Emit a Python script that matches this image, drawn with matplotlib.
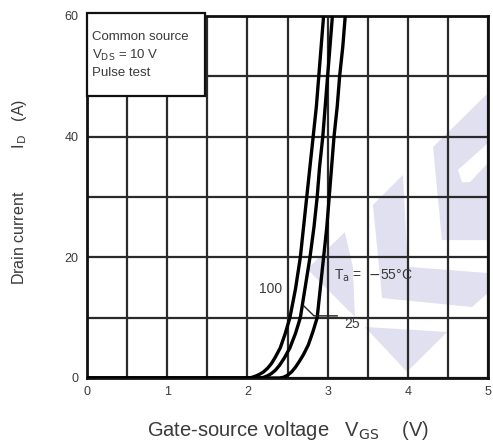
import numpy as np
import matplotlib
matplotlib.use('Agg')
import matplotlib.pyplot as plt
from matplotlib.patches import Polygon, Rectangle

plt.rcParams['font.family'] = ['Liberation Sans', 'DejaVu Sans']

# transfer characteristics (VGS in V, ID in A)
vgs_100 = [0.0, 2.0, 2.05, 2.1, 2.15, 2.2, 2.25, 2.3, 2.35, 2.41, 2.47, 2.53, 2.60, 2.66,
           2.70, 2.74, 2.78, 2.82, 2.86, 2.89, 2.92, 2.95]
id_100 = [0.0, 0.0, 0.08, 0.3, 0.6, 1.0, 1.6, 2.4, 3.5, 5.0, 7.3, 10.0, 14.8, 20.0,
          25.0, 30.0, 35.0, 40.0, 45.0, 50.0, 55.0, 60.0]

vgs_25 = [0.0, 2.15, 2.2, 2.25, 2.3, 2.35, 2.4, 2.46, 2.53, 2.60, 2.66, 2.72, 2.78,
          2.83, 2.87, 2.90, 2.94, 2.97, 3.00, 3.03, 3.06]
id_25 = [0.0, 0.0, 0.1, 0.35, 0.75, 1.3, 2.1, 3.3, 5.0, 7.4, 10.0, 15.0, 20.0,
         25.0, 30.0, 35.0, 40.0, 45.0, 50.0, 55.0, 60.0]

vgs_m55 = [0.0, 2.40, 2.45, 2.50, 2.55, 2.60, 2.65, 2.70, 2.76, 2.82, 2.87, 2.91, 2.95,
           2.99, 3.02, 3.05, 3.08, 3.12, 3.15, 3.19, 3.22]
id_m55 = [0.0, 0.0, 0.12, 0.45, 1.0, 1.8, 2.8, 3.9, 5.5, 7.8, 10.0, 15.0, 20.0,
          25.0, 30.0, 35.0, 40.0, 45.0, 50.0, 55.0, 60.0]

x_ticks = [0, 1, 2, 3, 4, 5]
y_ticks = [0, 20, 40, 60]

# faint logo watermark behind the grid (axes fraction)
WATERMARK = [
    [(0.643, 0.403), (0.549, 0.301), (0.668, 0.169), (0.663, 0.307)],
    [(0.693, 0.141), (0.898, 0.127), (0.798, 0.017)],
    [(0.713, 0.478), (0.788, 0.561), (0.800, 0.307), (1.0, 0.290),
     (1.0, 0.235), (0.960, 0.196), (0.736, 0.221)],
    [(0.863, 0.638), (1.0, 0.787), (1.0, 0.649), (0.925, 0.575), (0.935, 0.541),
     (0.955, 0.541), (1.0, 0.594), (1.0, 0.381), (0.885, 0.381)],
]

txt = '#3a3a3a'

fig = plt.figure(figsize=(4.93, 4.46), dpi=100)
ax = fig.add_axes([87 / 493, 68 / 446, 401 / 493, 362 / 446])
ax.set_xlim(0, 5)
ax.set_ylim(0, 60)
ax.set_axisbelow(True)

for poly in WATERMARK:
    ax.add_patch(Polygon(poly, closed=True, transform=ax.transAxes,
                         facecolor='#e0e0f0', edgecolor='none', zorder=0.2))

ax.set_xticks(np.arange(0, 5.01, 0.5), minor=True)
ax.set_yticks(np.arange(0, 60.1, 10), minor=True)
ax.set_xticks(x_ticks)
ax.set_yticks(y_ticks)
ax.grid(which='both', color='#2a2a2a', linewidth=1.6)
ax.tick_params(which='both', length=0, labelsize=9, labelcolor=txt, pad=6)
for s in ax.spines.values():
    s.set_linewidth(2.0)
    s.set_color('#111111')

for v, i in [(vgs_100, id_100), (vgs_25, id_25), (vgs_m55, id_m55)]:
    ax.plot(v, i, color='black', linewidth=2.4, solid_joinstyle='round', zorder=4, clip_on=True)

# condition box
ax.add_patch(Rectangle((0, 0.779), 0.294, 0.23, transform=ax.transAxes,
                       facecolor='white', edgecolor='#111111', linewidth=1.6, zorder=3, clip_on=False))
ax.text(0.013, 0.942, 'Common source', transform=ax.transAxes, fontsize=9.5, color=txt, va='center', zorder=5)
ax.text(0.013, 0.892, r'V$_{\mathrm{DS}}$ = 10 V', transform=ax.transAxes, fontsize=9.5, color=txt, va='center', zorder=5)
ax.text(0.013, 0.842, 'Pulse test', transform=ax.transAxes, fontsize=9.5, color=txt, va='center', zorder=5)

# curve labels
ax.text(2.29, 14.8, '100', fontsize=10, color=txt, ha='center', va='center', zorder=5)
ax.text(3.30, 8.9, '25', fontsize=10, color=txt, ha='center', va='center', zorder=5)
ax.plot([2.70, 2.83, 3.12], [12.0, 10.3, 10.3], color='#222222', linewidth=1.0, zorder=4)
ax.text(3.08, 17.0, r'T$_{\mathrm{a}}$ =  $-$55°C', fontsize=10, color=txt, ha='left', va='center', zorder=5)

ax.set_xlabel(r'Gate-source voltage   V$_{\mathrm{GS}}$    (V)', fontsize=14.5, color=txt, labelpad=15)
ax.set_ylabel(r'Drain current          I$_{\mathrm{D}}$   (A)', fontsize=11.5, color=txt)
ax.yaxis.set_label_coords(-0.145, 0.513)

fig.savefig('out.png', dpi=100)
